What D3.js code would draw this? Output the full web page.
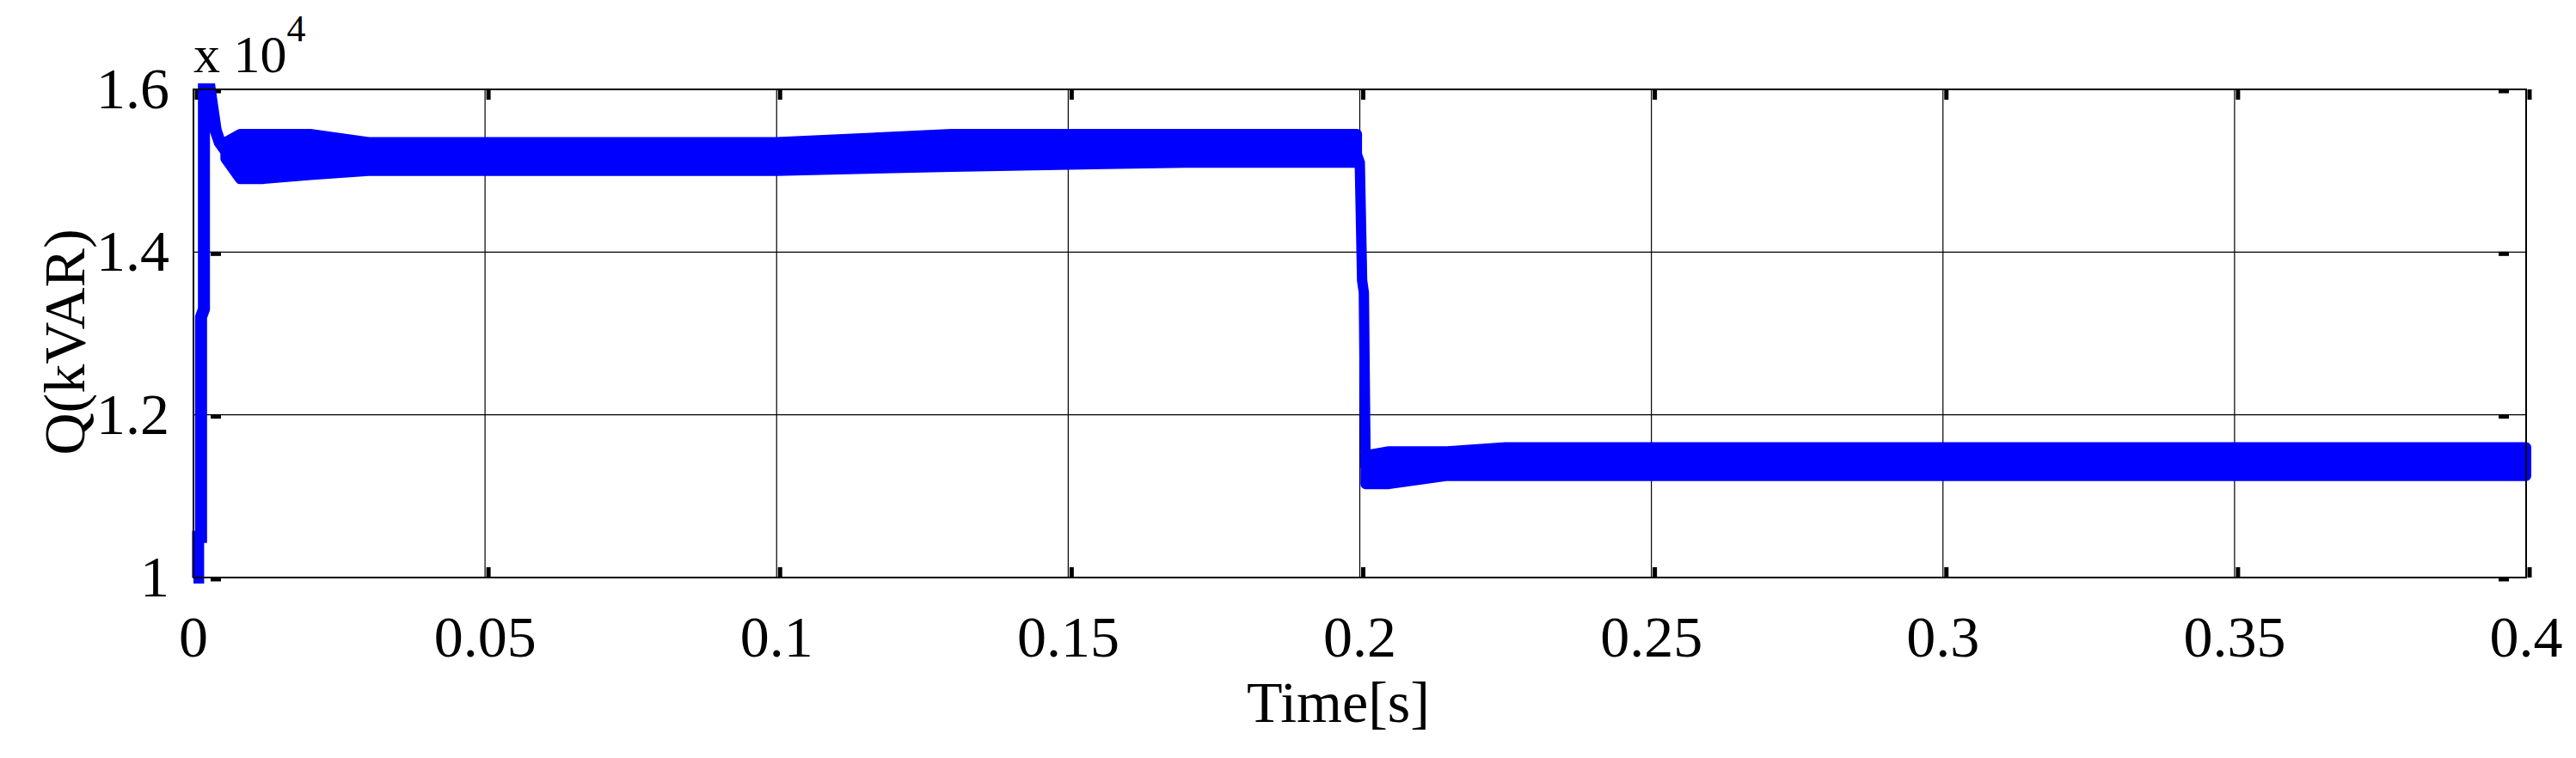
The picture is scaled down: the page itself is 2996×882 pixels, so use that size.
<!DOCTYPE html>
<html><head><meta charset="utf-8">
<script src="https://cdnjs.cloudflare.com/ajax/libs/d3/7.8.5/d3.min.js"></script>
<style>body{margin:0;background:#fff}</style></head>
<body><svg id="c" width="2996" height="882"></svg>
<script>
const xTicks=[0,0.05,0.1,0.15,0.2,0.25,0.3,0.35,0.4];
const yTicks=[1,1.2,1.4,1.6];
// transient path (t [s], Q [x1e4 kVAR])
const transT=[0,0.0008,0.0008,0.0013,0.0013,0.0018,0.0018,0.0028,0.0032,0.0038,0.0045,0.0055];
const transQ=[1.0,1.0,1.05,1.05,1.32,1.33,1.6,1.6,1.58,1.55,1.535,1.525];
// ripple band envelope before step
const band1T=[0.0055,0.008,0.012,0.02,0.03,0.06,0.1,0.13,0.17,0.1995];
const band1Up=[1.535,1.545,1.545,1.545,1.535,1.535,1.535,1.545,1.545,1.545];
const band1Lo=[1.515,1.49,1.49,1.495,1.5,1.5,1.5,1.505,1.51,1.51];
// step-down path
const dropT=[0.1995,0.2,0.2004,0.2007,0.201];
const dropQ=[1.52,1.51,1.365,1.35,1.135];
// ripple band envelope after step
const band2T=[0.201,0.205,0.21,0.215,0.225,0.3,0.4];
const band2Up=[1.15,1.155,1.155,1.155,1.16,1.16,1.16];
const band2Lo=[1.115,1.115,1.12,1.125,1.125,1.125,1.125];

const svg=d3.select("#c");
const L=225,R=2938,T=104,B=672;
const x=d3.scaleLinear().domain([0,0.4]).range([L,R]);
const y=d3.scaleLinear().domain([1,1.6]).range([B,T]);
const font="Liberation Serif, Times New Roman, serif";
const g=svg.append("g");
g.selectAll(".gx").data(xTicks).join("line").attr("x1",d=>x(d)).attr("x2",d=>x(d)).attr("y1",T).attr("y2",B).attr("stroke","#000").attr("stroke-width",1.2);
g.selectAll(".gy").data(yTicks).join("line").attr("y1",d=>y(d)).attr("y2",d=>y(d)).attr("x1",L).attr("x2",R).attr("stroke","#000").attr("stroke-width",1.2);
const tl=12;
xTicks.forEach(d=>{[[B,B-tl],[T,T+tl]].forEach(([a,b])=>g.append("line").attr("x1",x(d)+4).attr("x2",x(d)+4).attr("y1",a).attr("y2",b).attr("stroke","#000").attr("stroke-width",5));});
yTicks.forEach(d=>{[[L,L+tl],[R,R-tl]].forEach(([a,b])=>g.append("line").attr("y1",y(d)+2).attr("y2",y(d)+2).attr("x1",a+(a===L?20:-20)).attr("x2",b+(a===L?20:-20)).attr("stroke","#000").attr("stroke-width",5));});
const blue="#0000ff";
const line=d3.line().x(d=>x(d[0])).y(d=>y(d[1]));
const area=d3.area().x(d=>x(d[0])).y0(d=>y(d[2])).y1(d=>y(d[1]));
const b1=band1T.map((t,i)=>[t,band1Up[i],band1Lo[i]]);
const b2=band2T.map((t,i)=>[t,band2Up[i],band2Lo[i]]);
[b1,b2].forEach(b=>{
 g.append("path").attr("d",area(b)).attr("fill",blue).attr("stroke",blue).attr("stroke-width",12).attr("stroke-linejoin","round");
});
g.append("path").attr("d",line(transT.map((t,i)=>[t,transQ[i]]))).attr("fill","none").attr("stroke",blue).attr("stroke-width",14);
g.append("path").attr("d",line(dropT.map((t,i)=>[t,dropQ[i]]))).attr("fill","none").attr("stroke",blue).attr("stroke-width",12);
g.append("rect").attr("x",L).attr("y",T).attr("width",R-L).attr("height",B-T).attr("fill","none").attr("stroke","#000").attr("stroke-width",2);
g.selectAll(".xl").data(xTicks).join("text").attr("x",d=>x(d)).attr("y",B+92).attr("text-anchor","middle").attr("font-family",font).attr("font-size",68).text(d=>d===0?"0":String(d));
g.selectAll(".yl").data(yTicks).join("text").attr("x",L-28).attr("y",d=>y(d)+22).attr("text-anchor","end").attr("font-family",font).attr("font-size",68).text(d=>d===1?"1":d.toFixed(1));
const ex=g.append("text").attr("x",L).attr("y",84).attr("font-family",font).attr("font-size",62).text("x 10");
ex.append("tspan").attr("dy",-36).attr("font-size",44).text("4");
g.append("text").attr("x",(L+R)/2-25).attr("y",840).attr("text-anchor","middle").attr("font-family",font).attr("font-size",68).text("Time[s]");
g.append("text").attr("transform",`translate(98,${(T+B)/2+10}) rotate(-90)`).attr("text-anchor","middle").attr("font-family",font).attr("font-size",68).text("Q(kVAR)");
</script></body></html>
